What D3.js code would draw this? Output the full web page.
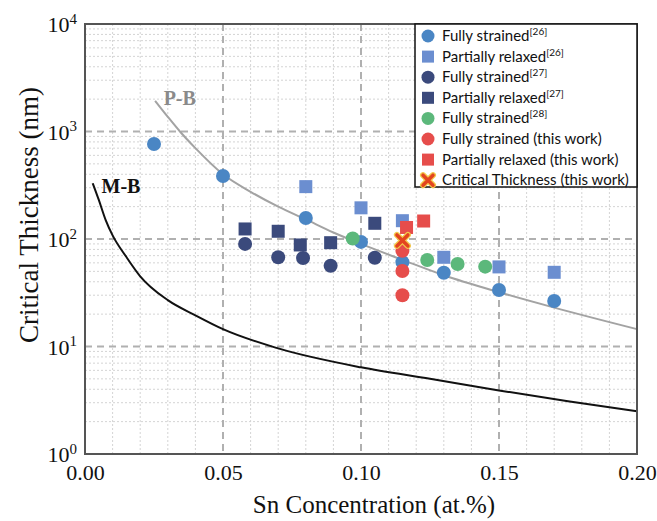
<!DOCTYPE html>
<html>
<head>
<meta charset="utf-8">
<script src="https://cdn.jsdelivr.net/npm/d3@7"></script>
<style>
  body { margin: 0; background: #fff; }
  svg { display: block; }
</style>
</head>
<body>
<div id="chart"></div>
<script>
// ---- data ----
// Fully strained [26]
const fs26X = [0.025, 0.05, 0.08, 0.10, 0.115, 0.13, 0.15, 0.17];
const fs26Y = [765, 385, 157, 94, 61, 48.6, 33.5, 26.5];
// Partially relaxed [26]
const pr26X = [0.08, 0.10, 0.115, 0.13, 0.15, 0.17];
const pr26Y = [307, 195, 148, 67.6, 55, 49];
// Fully strained [27]
const fs27X = [0.058, 0.07, 0.079, 0.089, 0.105];
const fs27Y = [90, 67.6, 66.6, 56.4, 67];
// Partially relaxed [27]
const pr27X = [0.058, 0.07, 0.078, 0.089, 0.105];
const pr27Y = [124, 118, 88, 92.4, 140];
// Fully strained [28]
const fs28X = [0.097, 0.124, 0.135, 0.145];
const fs28Y = [101, 63.8, 58.5, 55.3];
// this work
const fsTwX = [0.115, 0.115, 0.115];
const fsTwY = [77.8, 50.4, 30];
const prTwX = [0.1165, 0.1227];
const prTwY = [128, 147];
const ctX = [0.115];
const ctY = [97];

// model curves
const pbX = [0.0254, 0.03, 0.0344, 0.04, 0.05, 0.06, 0.07, 0.08, 0.09, 0.10, 0.115, 0.13, 0.15, 0.17, 0.20];
const pbY = [1930, 1370, 1000, 700, 400, 275, 200, 152, 115, 90, 64, 46, 32, 23, 14.5];
const mbX = [0.0028, 0.005, 0.0075, 0.01, 0.015, 0.02, 0.03, 0.04, 0.05, 0.07, 0.10, 0.125, 0.15, 0.175, 0.20];
const mbY = [330, 231, 150, 108, 68, 45, 27, 19.5, 14.5, 9.6, 6.4, 5.0, 3.9, 3.1, 2.5];

const xTicks = [0, 0.05, 0.10, 0.15, 0.20];
const yTicks = [1, 10, 100, 1000, 10000];
const legendLabels = [
    ["Fully strained", "[26]"],
    ["Partially relaxed", "[26]"],
    ["Fully strained", "[27]"],
    ["Partially relaxed", "[27]"],
    ["Fully strained", "[28]"],
    ["Fully strained (this work)", ""],
    ["Partially relaxed (this work)", ""],
    ["Critical Thickness (this work)", ""]
];

// colors
const cFs26 = '#4a86c4', cPr26 = '#6b8ed0', cDark = '#3b4a7c', cGreen = '#5cb87b', cRed = '#e64d4b';

const width = 657, height = 521;
const plot = {left: 85, right: 637, top: 24, bottom: 454};

const svg = d3.select("#chart").append("svg")
    .attr("width", width)
    .attr("height", height);

const x = d3.scaleLinear().domain([0, 0.2]).range([plot.left, plot.right]);
const y = d3.scaleLog().domain([1, 10000]).range([plot.bottom, plot.top]);

// minor grid
let minorX = d3.range(1, 20).map(i => i / 100).filter(v => Math.round(v * 100) % 5 !== 0);
let minorY = [];
[1, 10, 100, 1000].forEach(d => { for (let k = 2; k < 10; k++) minorY.push(d * k); });

const grid = svg.append("g").attr("class", "grid");
grid.selectAll(".minor-x").data(minorX).enter().append("line")
    .attr("x1", d => x(d)).attr("x2", d => x(d))
    .attr("y1", plot.top).attr("y2", plot.bottom)
    .attr("stroke", "#d4d4d4").attr("stroke-width", 1).attr("stroke-dasharray", "2,2");
grid.selectAll(".minor-y").data(minorY).enter().append("line")
    .attr("x1", plot.left).attr("x2", plot.right)
    .attr("y1", d => y(d)).attr("y2", d => y(d))
    .attr("stroke", "#d4d4d4").attr("stroke-width", 1).attr("stroke-dasharray", "2,2");

// major grid
grid.selectAll(".major-x").data(xTicks.slice(1, -1)).enter().append("line")
    .attr("x1", d => x(d)).attr("x2", d => x(d))
    .attr("y1", plot.top).attr("y2", plot.bottom)
    .attr("stroke", "#b0b0b0").attr("stroke-width", 2).attr("stroke-dasharray", "7,5");
grid.selectAll(".major-y").data(yTicks.slice(1, -1)).enter().append("line")
    .attr("x1", plot.left).attr("x2", plot.right)
    .attr("y1", d => y(d)).attr("y2", d => y(d))
    .attr("stroke", "#b0b0b0").attr("stroke-width", 2).attr("stroke-dasharray", "7,5");

// curves
const line = d3.line().x(d => x(d[0])).y(d => y(d[1])).curve(d3.curveMonotoneX);
svg.append("path")
    .datum(pbX.map((v, i) => [v, pbY[i]]))
    .attr("d", line).attr("fill", "none")
    .attr("stroke", "#a3a3a3").attr("stroke-width", 2);
svg.append("path")
    .datum(mbX.map((v, i) => [v, mbY[i]]))
    .attr("d", line).attr("fill", "none")
    .attr("stroke", "#111").attr("stroke-width", 2);

svg.append("text").text("P-B")
    .attr("x", x(0.0285)).attr("y", y(1930) + 4)
    .attr("font-family", "Liberation Serif").attr("font-weight", "bold")
    .attr("font-size", 20).attr("fill", "#8a8a8a");
svg.append("text").text("M-B")
    .attr("x", x(0.006)).attr("y", y(330) + 10)
    .attr("font-family", "Liberation Serif").attr("font-weight", "bold")
    .attr("font-size", 20).attr("fill", "#111");

// markers
function circles(xs, ys, color) {
    svg.append("g").selectAll("circle")
        .data(xs.map((v, i) => [v, ys[i]]))
        .enter().append("circle")
        .attr("cx", d => x(d[0])).attr("cy", d => y(d[1]))
        .attr("r", 7).attr("fill", color);
}
function squares(xs, ys, color) {
    const s = 13;
    svg.append("g").selectAll("rect")
        .data(xs.map((v, i) => [v, ys[i]]))
        .enter().append("rect")
        .attr("x", d => x(d[0]) - s / 2).attr("y", d => y(d[1]) - s / 2)
        .attr("width", s).attr("height", s).attr("fill", color);
}
function cross(g, cx, cy, r) {
    const p = `M${cx - r},${cy - r}L${cx + r},${cy + r}M${cx - r},${cy + r}L${cx + r},${cy - r}`;
    g.append("path").attr("d", p).attr("stroke", "#f3c84a").attr("stroke-width", 6).attr("stroke-linecap", "round");
    g.append("path").attr("d", p).attr("stroke", "#e3441f").attr("stroke-width", 3.5).attr("stroke-linecap", "round");
}

circles(fs26X, fs26Y, cFs26);
squares(pr26X, pr26Y, cPr26);
circles(fs27X, fs27Y, cDark);
squares(pr27X, pr27Y, cDark);
circles(fs28X, fs28Y, cGreen);
circles(fsTwX, fsTwY, cRed);
squares(prTwX, prTwY, cRed);
const ctG = svg.append("g");
ctX.forEach((v, i) => cross(ctG, x(v), y(ctY[i]), 5.5));

// frame
svg.append("rect")
    .attr("x", plot.left).attr("y", plot.top)
    .attr("width", plot.right - plot.left).attr("height", plot.bottom - plot.top)
    .attr("fill", "none").attr("stroke", "#555").attr("stroke-width", 2);

// axes
const xAxis = svg.append("g")
    .attr("transform", `translate(0, ${plot.bottom})`)
    .call(d3.axisBottom(x).tickValues(xTicks).tickFormat(d3.format(".2f")).tickSize(0).tickPadding(10));
xAxis.select(".domain").remove();
xAxis.selectAll("text")
    .attr("font-family", "Liberation Serif").attr("font-size", 22).attr("fill", "#111");

const yAxis = svg.append("g")
    .attr("transform", `translate(${plot.left}, 0)`)
    .call(d3.axisLeft(y).tickValues(yTicks).tickFormat("").tickSize(0));
yAxis.select(".domain").remove();
yAxis.selectAll(".tick").append("text")
    .attr("x", -8).attr("dy", "0.35em")
    .attr("text-anchor", "end")
    .attr("font-family", "Liberation Serif").attr("font-size", 22).attr("fill", "#111")
    .each(function (d) {
        const t = d3.select(this);
        t.append("tspan").text("10");
        t.append("tspan").text(Math.round(Math.log10(d)))
            .attr("font-size", 15).attr("dy", "-0.55em");
    });

svg.append("text").text("Sn Concentration (at.%)")
    .attr("x", 374).attr("y", 513)
    .attr("text-anchor", "middle")
    .attr("font-family", "Liberation Serif").attr("font-size", 25).attr("fill", "#111");
svg.append("text").text("Critical Thickness (nm)")
    .attr("transform", "translate(38, 215) rotate(-90)")
    .attr("text-anchor", "middle")
    .attr("font-family", "Liberation Serif").attr("font-size", 27).attr("fill", "#111");

// legend
const legend = svg.append("g").attr("class", "legend");
legend.append("rect")
    .attr("x", 415).attr("y", plot.top)
    .attr("width", plot.right - 415).attr("height", 163)
    .attr("fill", "#fff").attr("stroke", "#111").attr("stroke-width", 1.5);

const legendMarks = [
    {type: "circle", color: cFs26},
    {type: "square", color: cPr26},
    {type: "circle", color: cDark},
    {type: "square", color: cDark},
    {type: "circle", color: cGreen},
    {type: "circle", color: cRed},
    {type: "square", color: cRed},
    {type: "cross"}
];
legendLabels.forEach((lab, i) => {
    const cy = 36 + i * 20.6;
    const m = legendMarks[i];
    if (m.type === "circle") {
        legend.append("circle").attr("cx", 428).attr("cy", cy).attr("r", 6.5).attr("fill", m.color);
    } else if (m.type === "square") {
        legend.append("rect").attr("x", 422).attr("y", cy - 6).attr("width", 12).attr("height", 12).attr("fill", m.color);
    } else {
        cross(legend, 428, cy, 5);
    }
    const t = legend.append("text")
        .attr("x", 442).attr("y", cy + 5)
        .attr("font-family", "Lato").attr("font-size", 15).attr("fill", "#111");
    t.append("tspan").text(lab[0]);
    if (lab[1]) t.append("tspan").text(lab[1]).attr("font-size", 10).attr("dy", "-0.6em");
});
</script>
</body>
</html>
